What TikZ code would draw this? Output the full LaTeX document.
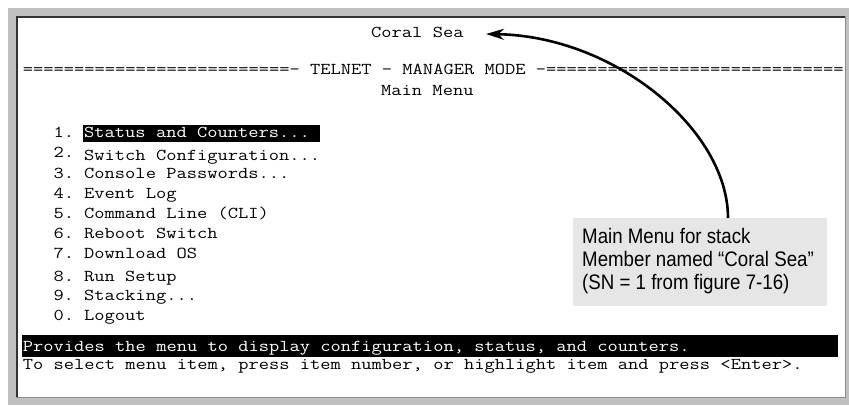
\documentclass[tikz,border=0pt]{standalone}
\usepackage{graphicx}
\usepackage{fontspec}
\usetikzlibrary{arrows.meta}
\newfontfamily\callfont[FakeStretch=0.89]{Liberation Sans}
\newcommand\mono[1]{\scalebox{1.2}[1]{\fontsize{16.6}{18}\ttfamily #1}}
\definecolor{framegray}{HTML}{C0C0C0}
\definecolor{calloutgray}{HTML}{E6E6E6}
\begin{document}
\begin{tikzpicture}[x=1pt,y=-1pt,
  term/.style={anchor=base west, inner sep=0pt},
  termw/.style={term, text=white},
  hbar/.style={fill=black, inner sep=0pt, anchor=north west},
  callout/.style={fill=calloutgray, anchor=north west, inner sep=0pt, minimum width=254, minimum height=88},
  calltext/.style={anchor=base west, inner sep=0pt, font=\callfont\fontsize{21}{23}\selectfont},
  pointer/.style={line width=2.6pt, -{Stealth[length=18pt,width=11pt]}}]
\useasboundingbox (0,0) rectangle (849,405);
% window frame
\fill[framegray] (8,8) rectangle (849,405);
\fill[white] (17,17) rectangle (845,397);
\draw[color=black!80, line width=1.6pt] (16.8,397) -- (16.8,16.8) -- (845,16.8);
\draw[color=black!45, line width=1pt] (845.5,16) -- (845.5,397.5) -- (16,397.5);
% header
\node[term] (coral) at (371,37) {\mono{Coral Sea}};
\node[term] (telnet) at (22.7,74) {\mono{==========================- TELNET - MANAGER MODE -=============================}};
\node[term] (mainmenu) at (381,95) {\mono{Main Menu}};
% menu items
\node[hbar, minimum width=237, minimum height=17] (bar1) at (83,125) {};
\node[term] (n1) at (53.3,137) {\mono{1.}};
\node[termw] (i1) at (84,137) {\mono{Status and Counters...}};
\node[term] (n2) at (53.3,157) {\mono{2.}};
\node[term] (i2) at (84,160) {\mono{Switch Configuration...}};
\node[term] (n3) at (53.3,178) {\mono{3.}};
\node[term] (i3) at (84,178) {\mono{Console Passwords...}};
\node[term] (n4) at (53.3,198) {\mono{4.}};
\node[term] (i4) at (84,198) {\mono{Event Log}};
\node[term] (n5) at (53.3,218) {\mono{5.}};
\node[term] (i5) at (84,218) {\mono{Command Line (CLI)}};
\node[term] (n6) at (53.3,238) {\mono{6.}};
\node[term] (i6) at (84,238) {\mono{Reboot Switch}};
\node[term] (n7) at (53.3,258) {\mono{7.}};
\node[term] (i7) at (84,258) {\mono{Download OS}};
\node[term] (n8) at (53.3,281) {\mono{8.}};
\node[term] (i8) at (84,281) {\mono{Run Setup}};
\node[term] (n9) at (53.3,300) {\mono{9.}};
\node[term] (i9) at (84,300) {\mono{Stacking...}};
\node[term] (n0) at (53.3,320) {\mono{0.}};
\node[term] (i0) at (84,320) {\mono{Logout}};
% status lines
\node[hbar, minimum width=816.5, minimum height=22] (bar2) at (21.5,335) {};
\node[termw] (help) at (22.7,351) {\mono{Provides the menu to display configuration, status, and counters.}};
\node[term] (hint) at (22.7,369) {\mono{To select menu item, press item number, or highlight item and press <Enter>.}};
% callout
\node[callout] (call) at (573,218) {};
\node[calltext] (c1) at (582,243.3) {Main Menu for stack};
\node[calltext] (c2) at (582,266.5) {Member named “Coral Sea”};
\node[calltext] (c3) at (582,289.5) {(SN = 1 from figure 7-16)};
\coordinate (src) at (728,218);
\coordinate (tip) at (486,34);
\draw[pointer] (src) .. controls (728,130) and (615,36) .. (tip);
\end{tikzpicture}
\end{document}
